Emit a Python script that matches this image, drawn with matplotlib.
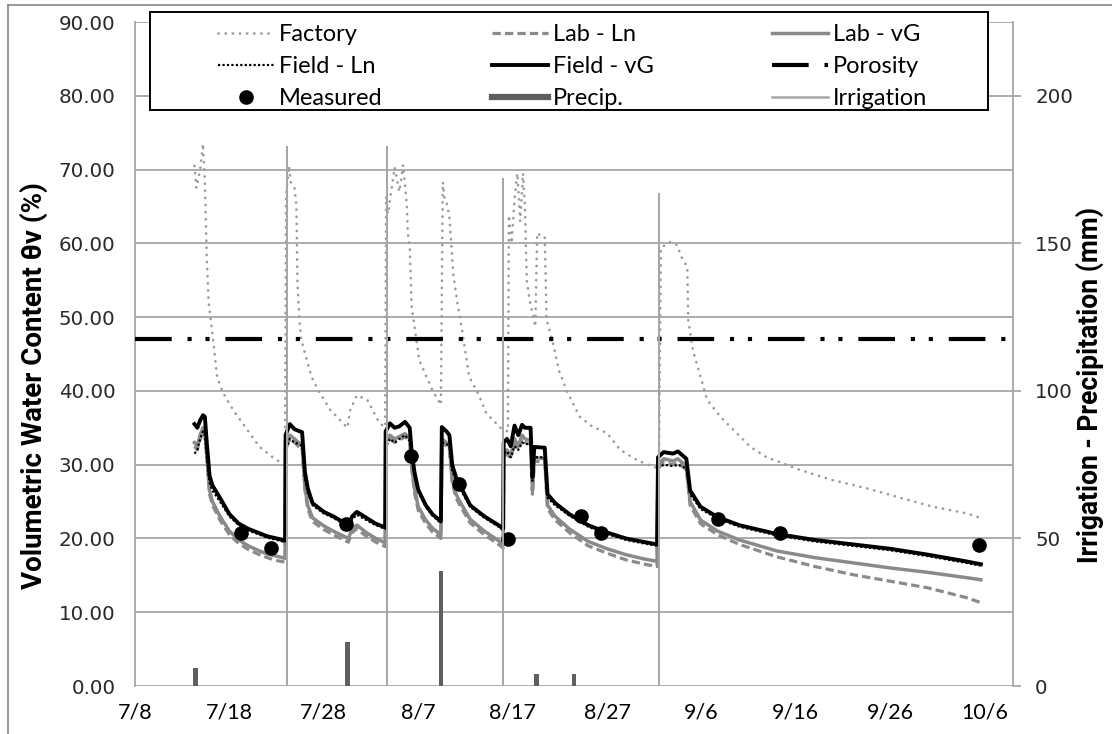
import datetime as dt
import matplotlib
matplotlib.use("Agg")
import matplotlib.pyplot as plt
import matplotlib.dates as mdates
from matplotlib import font_manager as fm
from matplotlib.lines import Line2D
from matplotlib.patches import Rectangle
from matplotlib.ticker import FuncFormatter, FixedLocator

# ---------------- data (days after 7/8) ----------------
START = dt.datetime(2012, 7, 8)
X_MAX_DAY = 93

model_days = [6.3, 6.6, 6.9, 7.2, 7.4, 7.6, 7.9, 8.2, 9.0, 10.0, 11.0, 12.0, 13.0, 14.0, 15.0, 15.9,
              15.95, 16.4, 16.9, 17.3, 17.7, 18.0, 18.3, 18.8, 20.0, 21.0, 21.8, 22.6, 23.0, 23.5, 24.5, 25.5, 26.5,
              26.55, 27.0, 27.5, 28.0, 28.6, 29.1, 29.3, 29.6, 30.0, 30.8, 31.5, 32.4,
              32.5, 33.0, 33.3, 33.6, 34.0, 34.5, 35.5, 37.0, 38.5, 39.0,
              39.05, 39.4, 39.8, 40.2, 40.6, 41.0, 41.3, 41.9, 42.1, 42.3, 43.4, 43.7, 44.5, 46.0, 48.0, 50.0, 52.0, 54.0, 55.3,
              55.4, 56.0, 57.0, 57.5, 58.4, 58.8, 59.9, 61.7, 64.0, 68.0, 72.0, 76.0, 80.0, 84.0, 88.0, 89.6]

field_vg = [35.5, 35.0, 36.0, 36.7, 36.5, 33.0, 28.5, 27.2, 25.5, 23.3, 22.0, 21.3, 20.8, 20.3, 20.0, 19.7,
            34.0, 35.5, 34.8, 34.6, 34.4, 29.0, 26.8, 24.8, 23.6, 23.0, 22.4, 21.8, 23.0, 23.6, 22.8, 22.0, 21.5,
            34.5, 35.6, 35.0, 35.2, 35.8, 35.0, 31.8, 29.0, 26.6, 24.5, 23.3, 22.3,
            35.1, 34.5, 34.0, 30.0, 28.3, 27.0, 24.5, 23.0, 21.8, 21.3,
            33.0, 33.5, 32.5, 35.3, 34.0, 35.4, 35.0, 35.0, 28.3, 32.4, 32.3, 26.0, 24.8, 23.3, 21.8, 20.8, 20.0, 19.5, 19.2,
            31.0, 31.7, 31.5, 31.8, 30.8, 26.5, 24.3, 22.9, 21.8, 20.6, 19.8, 19.2, 18.6, 17.8, 16.9, 16.5]

field_ln = [31.5, 32.0, 33.5, 34.5, 34.0, 31.0, 27.5, 26.5, 25.0, 23.0, 21.8, 21.1, 20.6, 20.1, 19.8, 19.5,
            32.0, 33.5, 33.0, 32.8, 32.5, 28.0, 26.2, 24.5, 23.4, 22.8, 22.2, 21.6, 22.6, 23.2, 22.5, 21.8, 21.3,
            32.5, 33.5, 33.0, 33.5, 34.0, 33.2, 30.8, 28.5, 26.3, 24.3, 23.1, 22.1,
            33.0, 32.8, 32.5, 29.2, 27.8, 26.6, 24.3, 22.8, 21.6, 21.1,
            31.5, 31.8, 31.0, 32.5, 32.0, 33.0, 32.8, 32.8, 27.8, 31.0, 31.0, 25.5, 24.5, 23.1, 21.6, 20.6, 19.8, 19.3, 19.0,
            29.5, 30.0, 29.8, 30.0, 29.5, 26.0, 24.0, 22.7, 21.6, 20.4, 19.6, 19.0, 18.4, 17.6, 16.7, 16.3]

lab_vg = [33.0, 32.5, 34.0, 35.0, 34.5, 31.5, 26.5, 25.0, 23.0, 21.0, 19.8, 19.0, 18.4, 17.9, 17.6, 17.3,
          32.5, 34.0, 33.5, 33.0, 32.8, 27.0, 24.5, 22.8, 21.7, 21.0, 20.5, 20.0, 21.3, 21.8, 20.8, 20.0, 19.4,
          33.0, 34.0, 33.5, 33.8, 34.2, 33.5, 30.0, 26.8, 24.3, 22.5, 21.4, 20.5,
          33.5, 33.0, 32.5, 28.0, 26.0, 24.8, 22.6, 21.0, 19.7, 19.2,
          31.5, 32.0, 31.2, 33.5, 32.5, 34.0, 33.5, 33.3, 26.5, 31.0, 30.8, 24.5, 23.0, 21.3, 19.6, 18.6, 17.8, 17.2, 16.9,
          30.0, 30.8, 30.5, 30.8, 29.8, 25.0, 22.5, 21.0, 19.8, 18.3, 17.4, 16.7, 16.0, 15.4, 14.7, 14.4]

lab_ln = [32.5, 32.0, 33.5, 34.5, 34.0, 31.0, 26.0, 24.5, 22.5, 20.5, 19.3, 18.5, 17.9, 17.4, 17.0, 16.8,
          32.0, 33.5, 33.0, 32.5, 32.3, 26.5, 24.0, 22.3, 21.2, 20.5, 20.0, 19.5, 20.8, 21.3, 20.3, 19.5, 18.9,
          32.5, 33.5, 33.0, 33.3, 33.8, 33.0, 29.5, 26.3, 23.8, 22.0, 20.9, 20.0,
          33.0, 32.5, 32.0, 27.5, 25.5, 24.3, 22.1, 20.5, 19.2, 18.7,
          31.0, 31.5, 30.8, 33.0, 32.0, 33.5, 33.0, 32.8, 26.0, 30.5, 30.3, 24.0, 22.5, 20.8, 19.0, 18.0, 17.1, 16.5, 16.2,
          29.5, 30.3, 30.0, 30.3, 29.3, 24.5, 22.0, 20.5, 19.2, 17.5, 16.2, 15.1, 14.2, 13.3, 12.0, 11.3]

factory_days = [6.3, 6.5, 6.9, 7.2, 7.4, 7.6, 7.8, 8.2, 8.7, 9.3, 10.4, 11.9, 13.2, 15.0, 15.4, 15.9,
                16.0, 16.3, 16.5, 16.9, 17.1, 17.2, 17.4, 17.6, 18.0, 18.7, 19.4, 20.7, 22.5, 22.8, 23.5, 24.6, 25.9, 26.5,
                26.6, 26.8, 27.5, 28.0, 28.4, 28.6, 28.8, 28.9, 29.1, 29.3, 30.1, 31.5, 32.4,
                32.6, 32.8, 33.0, 33.3, 33.7, 34.1, 34.7, 35.4, 36.4, 37.2, 38.7, 39.5,
                39.6, 39.9, 40.2, 40.5, 40.8, 41.1, 41.3, 41.5, 41.8, 42.4, 42.6, 43.0, 43.4, 43.6, 44.2, 44.9, 45.7,
                47.1, 48.5, 50.0, 51.4, 53.2, 54.9, 55.5,
                55.7, 56.7, 57.4, 57.9, 58.5, 58.6, 59.1, 59.9, 60.6, 62.0, 63.4, 65.2, 66.9, 68.6, 70.4,
                73.9, 77.5, 81.1, 84.5, 88.1, 89.5]
factory = [70.5, 67.5, 70.0, 73.5, 68.5, 58.0, 52.0, 47.8, 41.9, 39.8, 37.4, 34.7, 32.4, 30.6, 30.4, 30.3,
           66.5, 70.5, 68.3, 67.5, 65.0, 55.0, 50.0, 47.0, 45.1, 41.9, 40.1, 37.4, 35.0, 37.4, 39.4, 38.8, 35.6, 35.1,
           66.3, 64.0, 70.3, 67.0, 70.6, 67.9, 65.0, 61.4, 59.5, 51.5, 44.2, 40.1, 38.1,
           68.3, 66.0, 65.6, 63.6, 56.0, 52.3, 47.8, 41.9, 39.5, 37.0, 35.0, 34.5,
           63.8, 60.0, 66.0, 69.5, 63.0, 69.5, 65.0, 55.0, 52.3, 48.7, 61.4, 61.0, 60.9, 49.6, 46.9, 42.8, 40.1,
           36.5, 35.1, 34.3, 32.0, 30.6, 29.7, 29.5,
           59.4, 60.2, 59.8, 58.1, 56.8, 49.6, 45.5, 41.9, 38.8, 36.5, 34.7, 32.4, 31.0, 30.2, 29.3,
           27.9, 26.8, 25.5, 24.3, 23.4, 22.8]

measured_days = [11.2, 14.4, 22.4, 29.2, 34.3, 39.5, 47.2, 49.4, 61.7, 68.3, 89.4]
measured = [20.7, 18.7, 22.0, 31.2, 27.4, 19.9, 23.0, 20.7, 22.6, 20.8, 19.1]

precip_days = [6.4, 22.5, 32.4, 42.5, 46.5]
precip = [6.0, 15.0, 39.0, 4.0, 4.0]

irrig_days = [16.1, 26.7, 39.0, 55.5]
irrig = [183.0, 183.0, 172.0, 167.0]

porosity = 47.0
xtick_days = [0, 10, 20, 30, 40, 50, 60, 70, 80, 90]


def to_dates(days):
    return [START + dt.timedelta(days=d) for d in days]


# ---------------- fonts ----------------
installed = {f.name for f in fm.fontManager.ttflist}
NARROW = "Liberation Sans Narrow" if "Liberation Sans Narrow" in installed else "Roboto"
TICKFONT = "DejaVu Sans"
TXT = ["Lato", "DejaVu Sans"]
BOLD = [NARROW, "DejaVu Sans"]
GRID = "#a6a6a6"

# ---------------- figure ----------------
W, H = 1112, 734
fig = plt.figure(figsize=(W / 100, H / 100), dpi=100)
L, R, B, T = 135, 1013, 686, 22
ax = fig.add_axes([L / W, (H - B) / H, (R - L) / W, (B - T) / H])
ax2 = ax.twinx()

ax.set_xlim(START, START + dt.timedelta(days=X_MAX_DAY))
ax.set_ylim(0, 90)
ax2.set_ylim(0, 225)

ax.set_yticks(range(0, 91, 10))
ax.yaxis.grid(True, color=GRID, lw=1.3)
ax.set_axisbelow(True)

fc = "#9c9c9c"
lab_c = "#8a8a8a"
ax.plot(to_dates(factory_days), factory, color=fc, lw=1.9,
        linestyle=(0, (0.1, 2.6)), dash_capstyle="round", label="Factory", zorder=3)
ax.plot(to_dates(model_days), lab_ln, color=lab_c, lw=2.3,
        linestyle=(0, (2.6, 1.3)), label="Lab - Ln", zorder=4)
ax.plot(to_dates(model_days), lab_vg, color=lab_c, lw=2.5, label="Lab - vG", zorder=5)
ax.plot(to_dates(model_days), field_ln, color="black", lw=1.6,
        linestyle=(0, (1, 1)), label="Field - Ln", zorder=6)
ax.plot(to_dates(model_days), field_vg, color="black", lw=2.8, label="Field - vG", zorder=7)
x0d, x1d = ax.get_xlim()
ax.plot([mdates.num2date(x0d), mdates.num2date(x1d)], [porosity, porosity], color="black", lw=3.0,
        linestyle=(0, (8.8, 3.8, 1.0, 3.3, 1.0, 3.8)), label="Porosity", zorder=8)
ax.plot(to_dates(measured_days), measured, linestyle="none", marker="o", ms=9.5,
        color="black", label="Measured", zorder=9)

ax2.bar(to_dates(precip_days), precip, width=0.48, color="#5f5f5f", label="Precip.", zorder=3)
ax2.bar(to_dates(irrig_days), irrig, width=0.2, color="#a6a6a6", label="Irrigation", zorder=3)

for s in ["top", "bottom", "right"]:
    ax.spines[s].set_visible(False)
ax.spines["left"].set_color(GRID)
ax.spines["left"].set_linewidth(1.3)
for s in ["top", "bottom", "left"]:
    ax2.spines[s].set_visible(False)
ax2.spines["right"].set_color(GRID)
ax2.spines["right"].set_linewidth(1.3)

ax.xaxis.set_major_locator(FixedLocator(mdates.date2num(to_dates(xtick_days))))
ax.xaxis.set_major_formatter(FuncFormatter(lambda v, p: f"{mdates.num2date(v).month}/{mdates.num2date(v).day}"))
ax.tick_params(axis="x", length=0, pad=12, labelsize=15.5)
for t in ax.get_xticklabels():
    t.set_fontfamily(TXT)

ax.yaxis.set_major_formatter(FuncFormatter(lambda v, p: f"{v:.2f}"))
ax.tick_params(axis="y", length=0, pad=14, labelsize=14.3, labelcolor="#2a2a2a")
for t in ax.get_yticklabels():
    t.set_fontfamily(TICKFONT)

ax2.set_yticks([0, 50, 100, 150, 200])
ax2.tick_params(axis="y", length=6, width=1.3, color=GRID, pad=10, labelsize=14.3, labelcolor="#2a2a2a")
for t in ax2.get_yticklabels():
    t.set_fontfamily(TICKFONT)

ylab_l = ax.set_ylabel("Volumetric Water Content θv (%)", fontsize=14, fontweight="bold", family=BOLD)
ax.yaxis.set_label_coords((34 - L) / (R - L), (B - 386) / (B - T))
ylab_r = ax2.set_ylabel("Irrigation - Precipitation (mm)", fontsize=14, fontweight="bold", family=BOLD)
ax2.yaxis.set_label_coords((1090 - L) / (R - L), (B - 385) / (B - T))
for lab in (ylab_l, ylab_r):
    lab.set_verticalalignment("center")

# size axis titles to the lengths seen in the reference (capped)
fig.canvas.draw()
rend = fig.canvas.get_renderer()
for lab, target in [(ylab_l, 445), (ylab_r, 358)]:
    ext = lab.get_window_extent(rend)
    lab.set_fontsize(min(20, lab.get_fontsize() * target / ext.height))

# legend: frame + three columns placed where the reference has them
fig.patches.append(Rectangle((150 / W, (H - 110) / H), 838 / W, 98 / H, transform=fig.transFigure,
                             facecolor="white", edgecolor="black", lw=1.4, zorder=20))
h = {l.get_label(): l for l in ax.get_lines()}
h_prec = Line2D([], [], color="#5f5f5f", lw=4.5)
h_irr = Line2D([], [], color="#a6a6a6", lw=1.8)
columns = [
    (206, [h["Factory"], h["Field - Ln"], h["Measured"]], ["Factory", "Field - Ln", "Measured"]),
    (480, [h["Lab - Ln"], h["Field - vG"], h_prec], ["Lab - Ln", "Field - vG", "Precip."]),
    (760, [h["Lab - vG"], h["Porosity"], h_irr], ["Lab - vG", "Porosity", "Irrigation"]),
]
LEG_FS = 17.0
fs_px = LEG_FS * 100 / 72
for xpix, hh, ll in columns:
    lg = fig.legend(hh, ll, loc="upper left", bbox_to_anchor=(xpix / W, (H - 12) / H),
                    frameon=False, borderpad=0, handlelength=56 / fs_px, handletextpad=5 / fs_px,
                    labelspacing=0.47, prop={"family": TXT, "size": LEG_FS})
    lg.set_zorder(21)

fig.add_artist(Line2D([8 / W, 8 / W], [0, (H - 5) / H], transform=fig.transFigure, color="#888888", lw=1.2))
fig.add_artist(Line2D([8 / W, 1], [(H - 5) / H, (H - 5) / H], transform=fig.transFigure, color="#888888", lw=1.2))

fig.savefig("out.png", dpi=100)
